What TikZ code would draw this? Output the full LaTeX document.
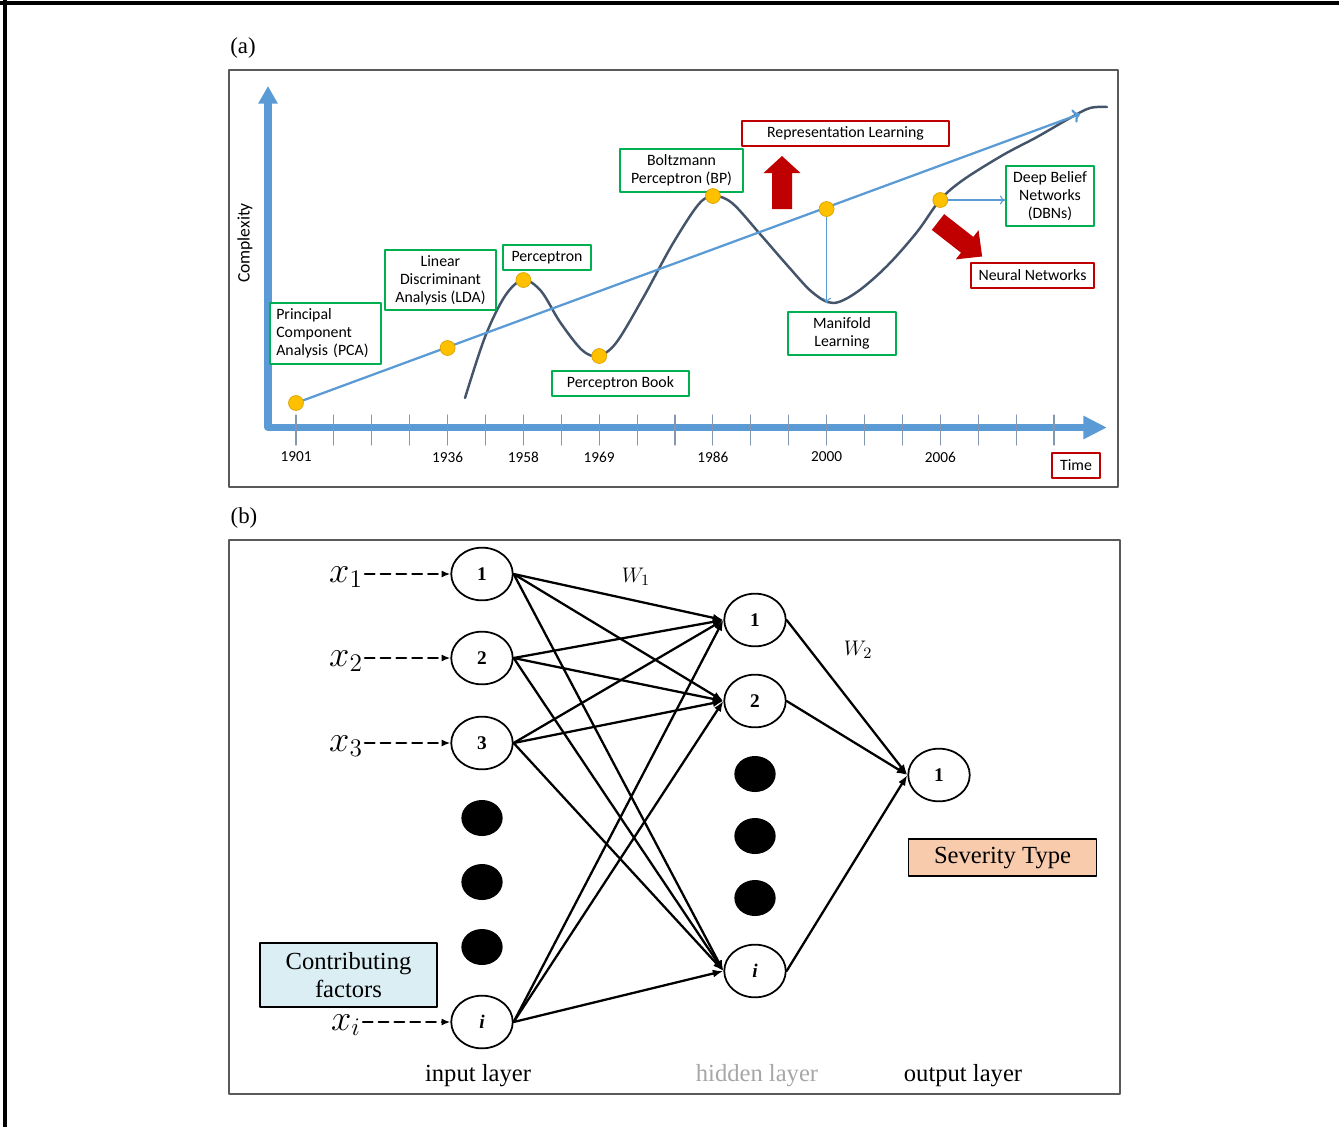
\documentclass[tikz,border=0pt]{standalone}
\usepackage{fontspec}
\setmainfont{Liberation Serif}
\newfontfamily\calib{Carlito}
\usetikzlibrary{shapes.geometric, arrows.meta}
\definecolor{axisblue}{RGB}{91,155,213}
\definecolor{curvegray}{RGB}{68,84,106}
\definecolor{tickgray}{RGB}{132,151,176}
\definecolor{boxgreen}{RGB}{0,176,80}
\definecolor{boxred}{RGB}{192,0,0}
\definecolor{dotgold}{RGB}{255,192,0}
\definecolor{factorblue}{RGB}{218,238,243}
\definecolor{severitypeach}{RGB}{248,203,173}

\begin{document}
\begin{tikzpicture}[x=0.02cm, y=-0.02cm, line cap=round, line join=round,
    gbox/.style={draw=boxgreen, line width=1.1pt, fill=white, inner sep=0pt, align=center,
        font=\calib\fontsize{9}{10.2}\selectfont},
    rbox/.style={gbox, draw=boxred},
    gdot/.style={circle, fill=dotgold, draw=dotgold!85!black, line width=0.4pt, minimum size=8.5pt, inner sep=0pt},
    neuron/.style={ellipse, draw, line width=1pt, fill=white, minimum width=35pt, minimum height=30pt,
        inner sep=0pt, font=\fontsize{11}{13}\selectfont\bfseries},
    blob/.style={ellipse, fill=black, minimum width=23.5pt, minimum height=20.5pt, inner sep=0pt},
    wire/.style={line width=1.3pt, -{Latex[length=6pt, width=4.5pt]}},
    feed/.style={line width=1.3pt, dash pattern=on 5.5pt off 3.5pt, -{Latex[length=5pt, width=4pt]}},
    thinarrow/.style={axisblue, line width=0.6pt, -{To[length=3pt, width=5pt]}},
    lbl/.style={font=\fontsize{14}{15.9}\selectfont},
    panel/.style={draw=black!65, line width=0.9pt}]
    \useasboundingbox (0,0) rectangle (1339,1127);
    %Outer frame
    \draw[line width=2.2pt, line cap=butt] (0,3) -- (1339,3);
    \draw[line width=1.8pt, line cap=butt] (5,0) -- (5,1127);

    %%%%%%%%%% Panel (a) %%%%%%%%%%
    \node[font=\fontsize{13}{15}\selectfont] (taga) at (243,48) {(a)};
    \draw[panel] (229,70) rectangle (1118,487);
        %Axes
    \draw[axisblue, line width=4pt, {Triangle[length=10pt, width=10.5pt]}-{Triangle[length=13.5pt, width=12.5pt]}]
        (268,86) -- (268,427.5) -- (1107,427.5);
    \foreach \k in {0,...,20}
        \draw[tickgray, line width=0.6pt] ({296+37.9*\k},415) -- ({296+37.9*\k},445);
    \node[rotate=90, font=\calib\fontsize{10}{12}\selectfont] (cplx) at (245,243) {Complexity};
        %Years
    \foreach \k/\yr in {0/1901,4/1936,6/1958,8/1969,11/1986,14/2000,17/2006}
        \node[font=\calib\fontsize{8.7}{10}\selectfont] (y\yr) at ({296+37.9*\k},457) {\yr};

    %Trend line and curve
    \coordinate (lineend) at (1080,114);
    \coordinate (mlow) at (831,303);
    \draw[curvegray, line width=1.4pt] plot[smooth, tension=0.55] coordinates {
        (465,398) (485,337) (505,296) (523,280) (541,291) (560,322) (582,350) (598,356)
        (616,343) (643,298) (672,245) (698,205) (713,196) (732,203) (760,234) (787,265)
        (812,292) (833,303) (857,292) (887,266) (917,232) (940,200) (963,180) (1003,155)
        (1037,137) (1070,118) (1090,108) (1107,107)};
    \foreach \k/\yr/\yy in {0/1901/403, 4/1936/348, 6/1958/280, 8/1969/356, 11/1986/196, 14/2000/209, 17/2006/200}
        \coordinate (c\yr) at ({296+37.9*\k},\yy);
    \draw[axisblue, line width=1.3pt, -{To[length=4pt, width=8pt]}] (c1901) -- (lineend);

        %Boxes
    \node[gbox, align=left, text width=56pt, inner xsep=3.4pt, minimum height=34.6pt] (pca) at (325.5,333.5)
        {Principal\\Component\\Analysis (PCA)};
    \node[gbox, minimum width=62.9pt, minimum height=34pt] (lda) at (440.5,280) {Linear\\Discriminant\\Analysis (LDA)};
    \node[gbox, minimum width=49.9pt, minimum height=14.2pt] (perc) at (547,257.5) {Perceptron};
    \node[gbox, minimum width=77.7pt, minimum height=14.2pt] (pbook) at (620.5,383.5) {Perceptron Book};
    \node[gbox, minimum width=69.7pt, minimum height=24.4pt] (bp) at (681.5,170.5) {Boltzmann\\Perceptron (BP)};
    \node[gbox, minimum width=61.2pt, minimum height=24.4pt] (manif) at (842,333.5) {Manifold\\Learning};
    \node[gbox, minimum width=49.9pt, minimum height=34pt] (dbn) at (1050,196) {Deep Belief\\Networks\\(DBNs)};
    \node[rbox, minimum width=117.4pt, minimum height=14.2pt] (rep) at (845.5,133.5) {Representation Learning};
    \node[rbox, minimum width=69.7pt, minimum height=14.2pt] (nnet) at (1032.5,275.5) {Neural Networks};
    \node[rbox, minimum width=27.2pt, minimum height=14.2pt] (time) at (1076,465.5) {Time};

        %Pointers
    \draw[thinarrow] (c2000) -- (c2000 |- mlow);
    \draw[thinarrow] (c2006) -- (c2006 -| dbn.west);
    \foreach \yr in {1901,1936,1958,1969,1986,2000,2006}
        \node[gdot] (d\yr) at (c\yr) {};

        %Red block arrows
    \begin{scope}[shift={(782,209)}, rotate=90]
        \fill[boxred] (0,-10) -- (36,-10) -- (36,-18.5) -- (53,0) -- (36,18.5) -- (36,10) -- (0,10) -- cycle;
    \end{scope}
    \begin{scope}[shift={(938,222)}, rotate=-38]
        \fill[boxred] (0,-10) -- (37,-10) -- (37,-18.5) -- (56,0) -- (37,18.5) -- (37,10) -- (0,10) -- cycle;
    \end{scope}

    %%%%%%%%%% Panel (b) %%%%%%%%%%
    \node[font=\fontsize{13}{15}\selectfont] (tagb) at (244,518) {(b)};
    \draw[panel] (229,540) rectangle (1120,1094);
        %Input layer
    \node[neuron] (in1) at (482,574) {1};
    \node[neuron] (in2) at (482,658) {2};
    \node[neuron] (in3) at (482,743) {3};
    \node[neuron] (ini) at (482,1022) {\textit{i}};
    \foreach \y [count=\n] in {818,882,947}
        \node[blob] (inb\n) at (482,\y) {};
        %Hidden layer
    \node[neuron] (hid1) at (755,620) {1};
    \node[neuron] (hid2) at (755,701) {2};
    \node[neuron] (hidi) at (755,971) {\textit{i}};
    \foreach \y [count=\n] in {774,836,898}
        \node[blob] (hidb\n) at (755,\y) {};
        %Output layer
    \node[neuron] (out1) at (939,775) {1};

        %Weights
    \foreach \a in {in1,in2,in3,ini}
        \foreach \b in {hid1,hid2,hidi}
            \draw[wire] (\a.east) -- (\b.west);
    \foreach \b in {hid1,hid2,hidi}
        \draw[wire] (\b.east) -- (out1.west);
    \node[font=\fontsize{13}{15}\selectfont] (w1) at (636,577) {$W_1$};
    \node[font=\fontsize{13}{15}\selectfont] (w2) at (858,650) {$W_2$};

        %Inputs
    \foreach \n/\s/\y in {1/1/577, 2/2/661, 3/3/746, i/i/1025}
        \node[font=\fontsize{21}{24}\selectfont, inner sep=1pt] (x\n) at (346,\y) {$x_\s$};
    \foreach \n in {1,2,3,i}
        \draw[feed] (in\n.west -| x\n.east) -- (in\n.west);

        %Labels
    \node[draw, line width=1.1pt, fill=factorblue, lbl, align=center, inner sep=0pt,
        minimum width=101pt, minimum height=36pt] (contrib) at (348.5,975) {Contributing\\factors};
    \node[draw, line width=1.1pt, fill=severitypeach, lbl, inner sep=0pt,
        minimum width=107pt, minimum height=21pt] (sev) at (1002.5,857.5) {Severity Type};
    \node[lbl] (inlay) at (478,1076) {input layer};
    \node[lbl, text=black!35] (hidlay) at (757,1076) {hidden layer};
    \node[lbl] (outlay) at (963,1076) {output layer};
\end{tikzpicture}
\end{document}
